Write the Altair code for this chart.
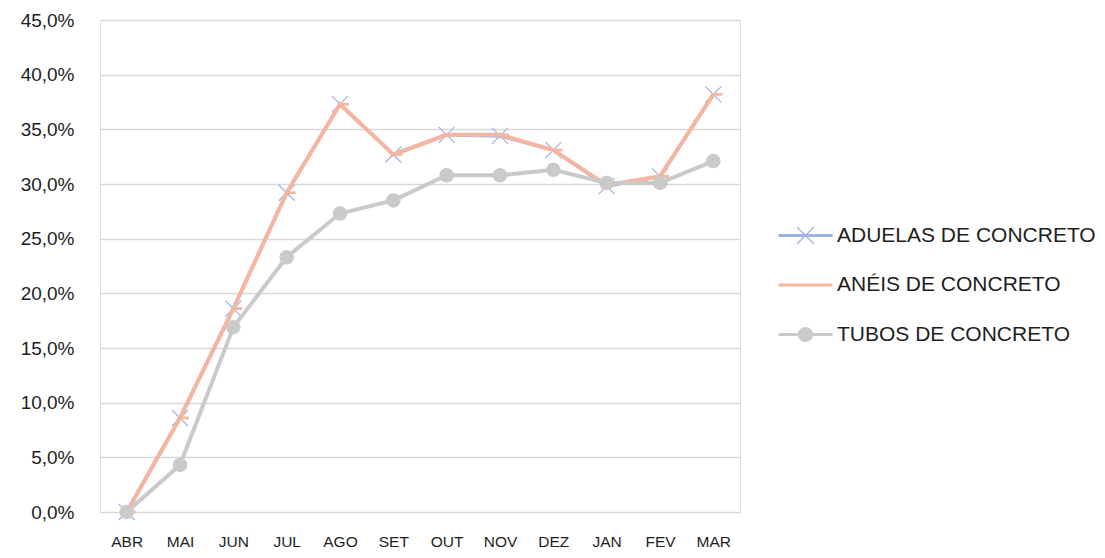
import altair as alt
import pandas as pd

months = ["ABR", "MAI", "JUN", "JUL", "AGO", "SET", "OUT", "NOV", "DEZ", "JAN", "FEV", "MAR"]
series_names = ["ADUELAS DE CONCRETO", "ANÉIS DE CONCRETO", "TUBOS DE CONCRETO"]
aduelas = [0.0, 0.086, 0.186, 0.292, 0.373, 0.327, 0.345, 0.344, 0.331, 0.298, 0.307, 0.382]
aneis = [0.0, 0.086, 0.186, 0.292, 0.373, 0.327, 0.345, 0.345, 0.331, 0.299, 0.307, 0.382]
tubos = [0.0, 0.043, 0.169, 0.233, 0.273, 0.285, 0.308, 0.308, 0.313, 0.301, 0.301, 0.321]
y_ticks = [0.0, 0.05, 0.10, 0.15, 0.20, 0.25, 0.30, 0.35, 0.40, 0.45]

colors = ["#9FB2E6", "#F4B6A0", "#CACACA"]
FONT = "Liberation Sans, Arial, sans-serif"
TEXT = "#1E1E1E"

rows = []
for name, vals in zip(series_names, [aduelas, aneis, tubos]):
    for m, v in zip(months, vals):
        rows.append({"mes": m, "serie": name, "valor": v})
df = pd.DataFrame(rows)

x_enc = alt.X("mes:N", sort=months, title=None,
              scale=alt.Scale(paddingInner=0, paddingOuter=0),
              axis=alt.Axis(labelAngle=0, labelFont=FONT, labelFontSize=15.5, labelColor=TEXT,
                            labelPadding=22, ticks=False, domain=False, grid=False))
y_enc = alt.Y("valor:Q", title=None,
              scale=alt.Scale(domain=[0, 0.45], nice=False),
              axis=alt.Axis(values=y_ticks, labelExpr="replace(format(datum.value, '.1%'), '.', ',')",
                            labelFont=FONT, labelFontSize=19, labelColor=TEXT, labelPadding=26,
                            ticks=False, domain=False, grid=True, gridColor="#D9D9D9", gridWidth=1.3))

base = alt.Chart(df).encode(x=x_enc, y=y_enc)

def sel(name):
    return base.transform_filter(alt.datum.serie == name)

line_a = sel(series_names[0]).mark_line(color=colors[0], strokeWidth=3.5)
pts_a = sel(series_names[0]).mark_point(shape="M-1,-1L1,1M-1,1L1,-1", filled=False,
                                        color=colors[0], strokeWidth=1.2, size=256, opacity=1)
line_b = sel(series_names[1]).mark_line(color=colors[1], strokeWidth=4)
pts_b = sel(series_names[1]).mark_point(shape="M0,-0.3H2V0.3H0Z", filled=True,
                                        color=colors[1], size=81, opacity=1)
line_c = sel(series_names[2]).mark_line(color=colors[2], strokeWidth=4)
pts_c = sel(series_names[2]).mark_circle(color=colors[2], size=210, opacity=1)

line_rect = "M-2.7,-0.15H2.7V0.15H-2.7Z"
x_path = ("M-0.805,-0.895L0.895,0.805L0.805,0.895L-0.895,-0.805Z"
          "M-0.895,0.805L0.805,-0.895L0.895,-0.805L-0.805,0.895Z")
circ_path = "M-0.75,0A0.75,0.75 0 1,1 0.75,0A0.75,0.75 0 1,1 -0.75,0Z"
legend_shapes = [line_rect + x_path, line_rect, line_rect + circ_path]

leg = alt.Legend(title=None, orient="none", legendX=695, legendY=205, symbolSize=400,
                 symbolStrokeWidth=0, labelFont=FONT, labelFontSize=21, labelColor=TEXT,
                 labelOffset=21, rowPadding=27.5, padding=0, labelLimit=400)

legend_layer = alt.Chart(df).transform_filter("false").mark_point(filled=True, opacity=1).encode(
    color=alt.Color("serie:N", scale=alt.Scale(domain=series_names, range=colors), legend=leg),
    shape=alt.Shape("serie:N", scale=alt.Scale(domain=series_names, range=legend_shapes), legend=leg),
)

chart = alt.layer(line_a, pts_a, line_b, pts_b, line_c, pts_c, legend_layer).properties(
    width=640, height=492,
    autosize=alt.AutoSizeParams(type="none"),
    padding={"left": 92, "top": 12, "right": 357, "bottom": 38},
).configure_view(stroke=None).configure(background="white")

chart.save("out.html", embed_options={"renderer": "svg", "actions": False})
